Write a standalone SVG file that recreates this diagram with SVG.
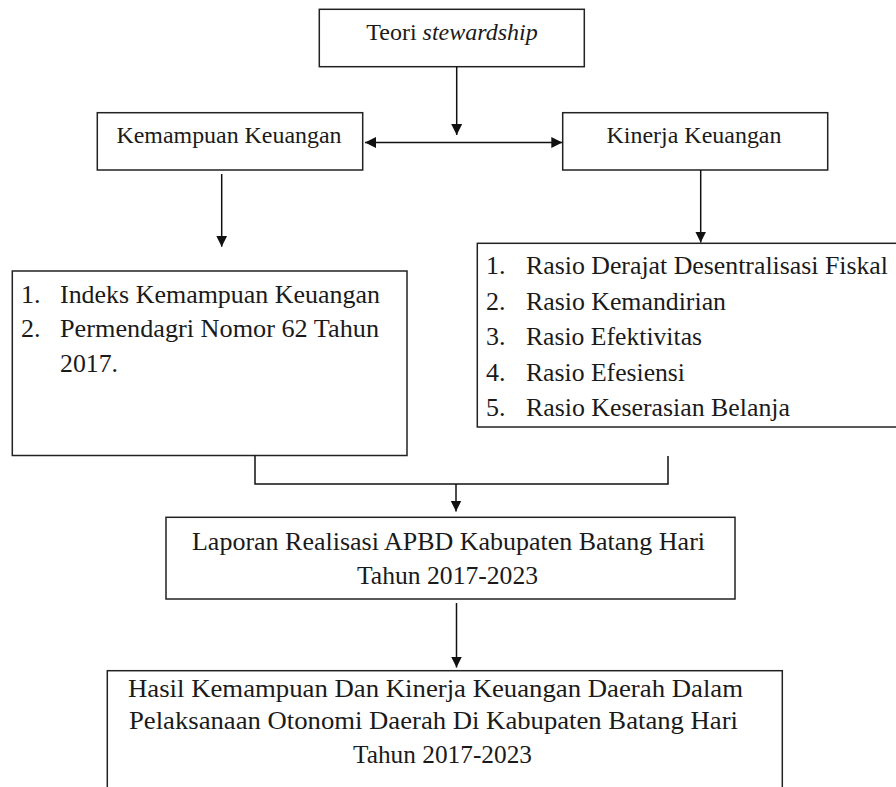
<svg xmlns="http://www.w3.org/2000/svg" width="896" height="787" viewBox="0 0 896 787" font-family="'Liberation Serif', 'Noto Serif', 'DejaVu Serif', 'Times New Roman', Times, serif">
  <style>
    .box { fill: #ffffff; stroke: #222222; stroke-width: 1.5; }
    .t { fill: #1a1a1a; }
    .t24 { font-size: 24px; }
    .t26 { font-size: 26px; }
    .mid { text-anchor: middle; }
    .line { fill: none; stroke: #111111; stroke-width: 1.5; }
  </style>
  <defs>
    <marker id="ah" markerUnits="userSpaceOnUse" markerWidth="12" markerHeight="12" viewBox="0 0 12 12" refX="11" refY="6" orient="auto-start-reverse">
      <path d="M0,0.5 L11,6 L0,11.5 Z" fill="#111111"/>
    </marker>
  </defs>
  <rect width="896" height="787" fill="#ffffff"/>

  <g id="teori">
    <rect class="box" x="319.3" y="9.3" width="265" height="57.4"/>
    <text class="t t24 mid" x="452" y="39.5" font-family="'Liberation Serif', 'Noto Serif', 'DejaVu Serif', serif">Teori <tspan font-style="italic">stewardship</tspan></text>
  </g>

  <g id="kemampuan">
    <rect class="box" x="97.3" y="112.7" width="265.4" height="57.3"/>
    <text class="t t24 mid" x="229" y="142.7" textLength="225" lengthAdjust="spacingAndGlyphs">Kemampuan Keuangan</text>
  </g>

  <g id="kinerja">
    <rect class="box" x="562.7" y="112.7" width="265" height="57.3"/>
    <text class="t t24 mid" x="694" y="142.5" textLength="175" lengthAdjust="spacingAndGlyphs">Kinerja Keuangan</text>
  </g>

  <g id="list-kemampuan">
    <rect class="box" x="12.3" y="271" width="394.7" height="184.5"/>
    <text class="t t26" x="21" y="302.7">1.</text>
    <text class="t t26" x="60" y="302.7" textLength="320" lengthAdjust="spacingAndGlyphs">Indeks Kemampuan Keuangan</text>
    <text class="t t26" x="21" y="337.2">2.</text>
    <text class="t t26" x="60" y="337.2" textLength="319" lengthAdjust="spacingAndGlyphs">Permendagri Nomor 62 Tahun</text>
    <text class="t t26" x="60" y="371.7" textLength="58" lengthAdjust="spacingAndGlyphs">2017.</text>
  </g>

  <g id="list-kinerja">
    <rect class="box" x="477.3" y="243.3" width="430" height="183.7"/>
    <text class="t t26" x="486" y="274">1.</text>
    <text class="t t26" x="526" y="274" textLength="362" lengthAdjust="spacingAndGlyphs">Rasio Derajat Desentralisasi Fiskal</text>
    <text class="t t26" x="486" y="309.5">2.</text>
    <text class="t t26" x="526" y="309.5" textLength="200" lengthAdjust="spacingAndGlyphs">Rasio Kemandirian</text>
    <text class="t t26" x="486" y="345">3.</text>
    <text class="t t26" x="526" y="345" textLength="176" lengthAdjust="spacingAndGlyphs">Rasio Efektivitas</text>
    <text class="t t26" x="486" y="380.5">4.</text>
    <text class="t t26" x="526" y="380.5" textLength="159" lengthAdjust="spacingAndGlyphs">Rasio Efesiensi</text>
    <text class="t t26" x="486" y="416">5.</text>
    <text class="t t26" x="526" y="416" textLength="264" lengthAdjust="spacingAndGlyphs">Rasio Keserasian Belanja</text>
  </g>

  <g id="laporan">
    <rect class="box" x="166" y="517.3" width="569" height="81.7"/>
    <text class="t t26 mid" x="448.5" y="550" textLength="513" lengthAdjust="spacingAndGlyphs">Laporan Realisasi APBD Kabupaten Batang Hari</text>
    <text class="t t26 mid" x="447.5" y="584" textLength="181" lengthAdjust="spacingAndGlyphs">Tahun 2017-2023</text>
  </g>

  <g id="hasil">
    <rect class="box" x="107.3" y="670.7" width="675" height="130"/>
    <text class="t t26 mid" x="435.5" y="697" textLength="615" lengthAdjust="spacingAndGlyphs">Hasil Kemampuan Dan Kinerja Keuangan Daerah Dalam</text>
    <text class="t t26 mid" x="433.5" y="729" textLength="609" lengthAdjust="spacingAndGlyphs">Pelaksanaan Otonomi Daerah Di Kabupaten Batang Hari</text>
    <text class="t t26 mid" x="442.5" y="763" textLength="179" lengthAdjust="spacingAndGlyphs">Tahun 2017-2023</text>
  </g>

  <g id="connectors">
    <line class="line" x1="456.7" y1="66.7" x2="456.7" y2="135" marker-end="url(#ah)"/>
    <line class="line" x1="365" y1="142.5" x2="562.3" y2="142.5" marker-start="url(#ah)" marker-end="url(#ah)"/>
    <line class="line" x1="221.7" y1="174" x2="221.7" y2="246.7" marker-end="url(#ah)"/>
    <line class="line" x1="700.7" y1="170" x2="700.7" y2="242.5" marker-end="url(#ah)"/>
    <polyline class="line" points="255,455.5 255,484 668,484 668,456"/>
    <line class="line" x1="456" y1="484" x2="456" y2="511.5" marker-end="url(#ah)"/>
    <line class="line" x1="456.5" y1="603" x2="456.5" y2="667.5" marker-end="url(#ah)"/>
  </g>
</svg>
